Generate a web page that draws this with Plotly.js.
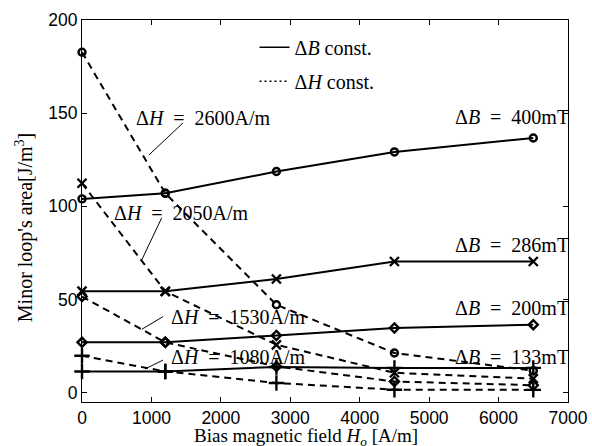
<!DOCTYPE html>
<html>
<head>
<meta charset="utf-8">
<script src="https://cdn.plot.ly/plotly-3.0.1.min.js"></script>
<style>
  html, body { margin: 0; padding: 0; background: #fff; }
  #chart { width: 592px; height: 446px; }
</style>
</head>
<body>
<div id="chart"></div>
<script>
// Bias magnetic field H_o [A/m] at which the minor loops were measured
const biasField = [0, 1200, 2800, 4500, 6500];

// Minor loop area [J/m^3] at constant flux-density amplitude ΔB
const dB400 = [104, 107, 118.7, 129.2, 136.7];
const dB286 = [54.5, 54.4, 61, 70.4, 70.4];
const dB200 = [27, 27, 30.7, 34.7, 36.5];
const dB133 = [11.4, 11.4, 13.8, 13.3, 13.3];

// Minor loop area [J/m^3] at constant field amplitude ΔH
const dH2600 = [182.7, 107, 47.2, 21.3, 11.8];
const dH2050 = [112.4, 54.4, 25.7, 10.7, 7.5];
const dH1530 = [51.6, 27, 14.1, 6, 4];
const dH1080 = [19.8, 11.4, 5.2, 1.6, 1.5];

// Curve labels
const dBLabels = ['Δ<i>B</i>\u2002=\u2002400mT', 'Δ<i>B</i>\u2002=\u2002286mT',
                  'Δ<i>B</i>\u2002=\u2002200mT', 'Δ<i>B</i>\u2002=\u2002133mT'];
const dHLabels = ['Δ<i>H</i>\u2002=\u20022600A/m', 'Δ<i>H</i>\u2002=\u20022050A/m',
                  'Δ<i>H</i>\u2002=\u20021530A/m', 'Δ<i>H</i>\u2002=\u20021080A/m'];
const legendLabels = ['Δ<i>B</i> const.', 'Δ<i>H</i> const.'];
const xTitle = 'Bias magnetic field <i>H<sub>o</sub></i> [A/m]';
const yTitle = "Minor loop's area[J/m<sup>3</sup>]";

const serif = 'Liberation Serif, Times New Roman, serif';
const sans = 'Liberation Sans, Arial, sans-serif';
const textSize = 20;
const dashPattern = '7px,5px';

function series(y, symbol, size, dashed) {
  return {
    x: biasField, y: y, type: 'scatter', mode: 'lines+markers',
    showlegend: false, hoverinfo: 'skip', cliponaxis: false,
    line: { color: '#000', width: 2, dash: dashed ? dashPattern : 'solid' },
    marker: { symbol: symbol, size: size, color: '#000',
              line: { color: '#000', width: 2.4 } }
  };
}

const traces = [
  series(dH2600, 'circle-open', 7, true),
  series(dH2050, 'x-thin-open', 9, true),
  series(dH1530, 'diamond-open', 7, true),
  series(dH1080, 'cross-thin-open', 11, true),
  series(dB400, 'circle-open', 7, false),
  series(dB286, 'x-thin-open', 9, false),
  series(dB200, 'diamond-open', 7, false),
  series(dB133, 'cross-thin-open', 11, false),
  // legend keys
  { x: [null], y: [null], type: 'scatter', mode: 'lines', name: legendLabels[0],
    legendgroup: 'b', line: { color: '#000', width: 1.5 } },
  { x: [null], y: [null], type: 'scatter', mode: 'lines', name: legendLabels[1],
    legendgroup: 'h', line: { color: '#000', width: 1.5, dash: '2px,3px' } }
];

// Label placement: ΔB labels end at the right frame (paper x), ΔH labels in data units
const dBLabelY = [148, 79.3, 45.5, 19.3];
const dHLabelPos = [[1743, 147.4], [1440, 96.4], [2261, 40.8], [2261, 19.2]];
// Leader lines from each ΔH label to its curve
const leaders = [
  [1455, 144.8, 965, 127.6],
  [1148, 93.8, 860, 71.2],
  [1167, 40.8, 860, 34],
  [1167, 17.5, 907, 12.7]
];

const annotations = [];
dBLabels.forEach((t, i) => annotations.push({
  x: 1.006, y: dBLabelY[i], xref: 'paper', yref: 'y',
  text: t, showarrow: false, xanchor: 'right', yanchor: 'middle',
  font: { family: serif, size: textSize, color: '#000' }
}));
dHLabels.forEach((t, i) => annotations.push({
  x: dHLabelPos[i][0], y: dHLabelPos[i][1], xref: 'x', yref: 'y',
  text: t, showarrow: false, xanchor: 'center', yanchor: 'middle',
  font: { family: serif, size: textSize, color: '#000' }
}));
// Axis titles
annotations.push({
  x: 0.46, y: 0, xref: 'paper', yref: 'paper', yshift: -21,
  text: xTitle, showarrow: false, xanchor: 'center', yanchor: 'top',
  font: { family: serif, size: 19, color: '#000' }
});
annotations.push({
  x: 0, y: 0.455, xref: 'paper', yref: 'paper', xshift: -58,
  text: yTitle, showarrow: false, textangle: -90, xanchor: 'center', yanchor: 'middle',
  font: { family: serif, size: textSize, color: '#000' }
});

const shapes = leaders.map(l => ({
  type: 'line', xref: 'x', yref: 'y',
  x0: l[0], y0: l[1], x1: l[2], y1: l[3],
  line: { color: '#000', width: 1 }
}));

const axisCommon = {
  showgrid: false, zeroline: false, showline: true, linecolor: '#000',
  linewidth: 1, mirror: 'ticks', ticks: 'inside', ticklen: 5,
  tickcolor: '#000', tickwidth: 1,
  tickfont: { family: sans, size: 17.5, color: '#000' }
};

const layout = {
  width: 592, height: 446,
  margin: { l: 82, r: 24, t: 20, b: 44 },
  paper_bgcolor: '#fff', plot_bgcolor: '#fff',
  showlegend: true,
  legend: {
    x: 0.355, y: 0.98, xanchor: 'left', yanchor: 'top',
    bgcolor: 'rgba(0,0,0,0)', borderwidth: 0,
    font: { family: serif, size: textSize, color: '#000' },
    traceorder: 'grouped', tracegroupgap: 5
  },
  xaxis: Object.assign({}, axisCommon, {
    range: [0, 7000], tickvals: [0, 1000, 2000, 3000, 4000, 5000, 6000, 7000],
    ticklabelstandoff: 0
  }),
  yaxis: Object.assign({}, axisCommon, {
    range: [-5, 200], tickvals: [0, 50, 100, 150, 200]
  }),
  annotations: annotations,
  shapes: shapes
};

Plotly.newPlot('chart', traces, layout, { displayModeBar: false, staticPlot: true });
</script>
</body>
</html>
